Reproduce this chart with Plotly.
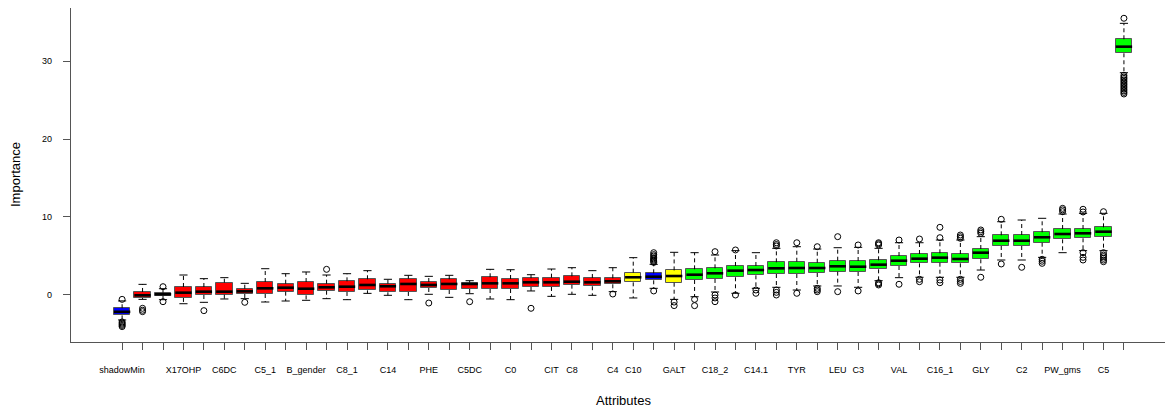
import plotly.graph_objects as go

# ---- data ----
labels = ["shadowMin", "", "", "X17OHP", "", "C6DC", "", "C5_1", "", "B_gender",
          "", "C8_1", "", "C14", "", "PHE", "", "C5DC", "", "C0",
          "", "CIT", "C8", "", "C4", "C10", "", "GALT", "", "C18_2",
          "", "C14.1", "", "TYR", "", "LEU", "C3", "", "VAL", "",
          "C16_1", "", "GLY", "", "C2", "", "PW_gms", "", "C5", ""]

status = (["shadow", "rejected", "shadow"] + ["rejected"] * 22 +
          ["tentative", "shadow", "tentative"] + ["confirmed"] * 22)

lower_whisker = [-3.25, -0.60, -0.64, -1.16, -0.98, -0.55, -0.51, -0.94, -0.81, -0.72,
                 -0.51, -0.64, 0.17, -0.08, -0.64, 0.05, -0.34, 0.13, -0.55, -0.64,
                 0.48, -0.21, 0.05, -0.08, 0.39, -0.42, 0.82, -0.60, -0.26, 0.35,
                 0.18, 0.82, 0.95, 0.60, 1.12, 1.12, 0.95, 1.80, 2.19, 2.24,
                 2.24, 2.24, 3.17, 4.46, 4.46, 4.80, 5.40, 5.66, 5.66, 28.53]
q1 = [-2.66, -0.42, -0.15, -0.42, -0.04, 0.00, 0.09, 0.09, 0.39, -0.08,
      0.51, 0.35, 0.56, 0.31, 0.35, 0.86, 0.60, 0.73, 0.73, 0.73,
      0.99, 0.99, 1.29, 1.08, 1.34, 1.59, 1.85, 1.54, 1.89, 2.02,
      2.24, 2.49, 2.66, 2.66, 2.79, 2.96, 2.92, 3.26, 3.69, 4.03,
      4.11, 4.03, 4.55, 6.26, 6.26, 6.68, 7.12, 7.25, 7.46, 31.03]
median = [-2.20, -0.08, 0.05, 0.26, 0.39, 0.39, 0.43, 0.82, 0.90, 0.77,
          0.95, 1.03, 1.25, 1.08, 1.38, 1.25, 1.38, 1.38, 1.46, 1.46,
          1.59, 1.59, 1.67, 1.59, 1.72, 2.24, 2.31, 2.40, 2.57, 2.75,
          3.09, 3.17, 3.39, 3.43, 3.43, 3.65, 3.60, 3.86, 4.37, 4.63,
          4.76, 4.59, 5.40, 6.94, 6.94, 7.38, 7.80, 7.89, 8.10, 31.88]
q3 = [-1.74, 0.35, 0.25, 0.99, 0.99, 1.54, 0.77, 1.63, 1.41, 1.63,
      1.41, 1.72, 1.98, 1.41, 2.06, 1.63, 1.98, 1.54, 2.24, 2.02,
      2.11, 2.19, 2.36, 2.15, 2.11, 2.83, 2.75, 3.12, 3.26, 3.39,
      3.69, 3.69, 4.16, 4.24, 4.11, 4.37, 4.33, 4.42, 4.97, 5.23,
      5.32, 5.23, 5.87, 7.63, 7.67, 8.02, 8.44, 8.44, 8.66, 32.83]
upper_whisker = [-0.80, 1.33, 0.77, 2.53, 2.06, 2.19, 1.46, 3.34, 2.70, 2.92,
                 2.53, 2.70, 3.09, 1.98, 2.49, 2.36, 2.49, 1.80, 3.26, 3.21,
                 2.57, 3.30, 3.47, 3.09, 3.47, 4.76, 3.90, 5.45, 5.40, 5.10,
                 5.66, 5.40, 5.96, 6.17, 5.87, 6.04, 6.09, 5.96, 6.68, 6.68,
                 7.03, 7.03, 7.46, 9.38, 9.60, 9.82, 10.37, 10.46, 10.46, 34.88]
outliers = [[-0.6, -3.5, -3.65, -3.8, -3.95, -4.1], [-1.75, -2.0, -2.18], [1.03, -0.9], [], [-2.05],
            [], [-0.98], [], [], [],
            [3.26], [], [], [], [],
            [-1.07], [], [-0.9], [], [],
            [-1.75], [], [], [], [0.09],
            [], [4.15, 4.3, 4.45, 4.6, 4.75, 4.97, 5.15, 5.4, 0.48], [-0.95, -1.4],
            [-0.6, -1.41], [5.53, -0.04, -0.42, -0.9],
            [5.75, -0.04], [0.6, 0.18], [6.26, 6.45, 6.68, 0.6, 0.3, -0.04], [6.68, 0.18],
            [6.17, 0.82, 0.6, 0.39],
            [7.46, 0.39], [6.39, 0.48], [6.39, 6.55, 6.68, 1.54, 1.4, 1.25], [7.03, 1.34],
            [7.16, 1.98, 1.67],
            [7.33, 8.66, 1.89, 1.54], [7.25, 7.45, 7.67, 1.98, 1.7, 1.46], [7.89, 8.1, 8.32, 2.24],
            [9.69, 3.95], [3.52],
            [4.55, 4.3, 4.03], [10.67, 10.9, 11.1], [10.63, 10.98, 5.4, 4.8, 4.46],
            [10.67, 5.4, 5.1, 4.9, 4.68, 4.45, 4.24],
            [35.53, 28.2, 27.98, 27.8, 27.6, 27.4, 27.2, 27.0, 26.8, 26.6, 26.4, 26.2, 26.0, 25.8]]

y_ticks = [0, 10, 20, 30]

# ---- styling ----
status_colors = {"shadow": "#0000FF", "rejected": "#FF0000",
                 "tentative": "#FFFF00", "confirmed": "#00FF00"}
BOX_W = 0.8
CAP_HALF = 0.2

n = len(labels)
pos = list(range(1, n + 1))

fig = go.Figure()

# boxes (Q1..Q3)
fig.add_trace(go.Bar(
    x=pos, base=q1, y=[b - a for a, b in zip(q1, q3)], width=BOX_W,
    marker=dict(color=[status_colors[s] for s in status],
                line=dict(color="#555555", width=1)),
    hoverinfo="skip", showlegend=False))

def seg(xs0, xs1, ys0, ys1):
    X, Y = [], []
    for a, b, c, d in zip(xs0, xs1, ys0, ys1):
        X += [a, b, None]
        Y += [c, d, None]
    return X, Y

# dashed whiskers
wx, wy = seg(pos + pos, pos + pos, q3 + q1, upper_whisker + lower_whisker)
fig.add_trace(go.Scatter(x=wx, y=wy, mode="lines",
                         line=dict(color="black", width=1, dash="4px,3px"),
                         hoverinfo="skip", showlegend=False))
# staples
cx, cy = seg([p - CAP_HALF for p in pos] * 2, [p + CAP_HALF for p in pos] * 2,
             upper_whisker + lower_whisker, upper_whisker + lower_whisker)
fig.add_trace(go.Scatter(x=cx, y=cy, mode="lines",
                         line=dict(color="black", width=1),
                         hoverinfo="skip", showlegend=False))
# medians
mx, my = seg([p - BOX_W / 2 for p in pos], [p + BOX_W / 2 for p in pos], median, median)
fig.add_trace(go.Scatter(x=mx, y=my, mode="lines",
                         line=dict(color="black", width=2.6),
                         hoverinfo="skip", showlegend=False))
# outliers
ox = [p for p, o in zip(pos, outliers) for _ in o]
oy = [v for o in outliers for v in o]
fig.add_trace(go.Scatter(x=ox, y=oy, mode="markers",
                         marker=dict(symbol="circle-open", size=6, color="black",
                                     line=dict(width=1)),
                         hoverinfo="skip", showlegend=False))

# page body has an 8px margin: figure is drawn 8px lower/right
PLOT_W = 1102
PLOT_H = 334
font = "Liberation Sans, Arial, sans-serif"

annotations = [
    dict(text="Attributes", xref="paper", yref="paper", x=(623 - 71) / PLOT_W,
         y=-(400 - 342) / PLOT_H, xanchor="center", yanchor="middle",
         showarrow=False, font=dict(size=13)),
    dict(text="Importance", xref="paper", yref="paper", x=(15 - 71) / PLOT_W,
         y=0.5, xanchor="center", yanchor="middle", textangle=-90,
         showarrow=False, font=dict(size=13)),
]
for t in y_ticks:
    annotations.append(dict(text=str(t), xref="paper", yref="y", x=(54 - 71) / PLOT_W,
                            y=t, xanchor="right", yanchor="middle", showarrow=False,
                            font=dict(size=9)))

fig.update_layout(
    width=1165, height=402,
    margin=dict(l=63, r=0, t=0, b=68, autoexpand=False),
    paper_bgcolor="white", plot_bgcolor="white",
    font=dict(family=font, color="black"),
    bargap=0,
    xaxis=dict(range=[-1.5, 52.4], tickmode="array", tickvals=pos, ticktext=labels,
               tickangle=0, ticks="outside", ticklen=7, tickcolor="#555555",
               showline=True, linecolor="#555555", linewidth=1, mirror=True,
               showgrid=False, zeroline=False, tickfont=dict(size=9),
               ticklabelstandoff=12, automargin=False),
    yaxis=dict(range=[-6.08, 36.85], tickmode="array", tickvals=y_ticks,
               showticklabels=False,
               ticks="outside", ticklen=7, tickcolor="#555555",
               showline=True, linecolor="#555555", linewidth=1, mirror=False,
               showgrid=False, zeroline=False, automargin=False),
    annotations=annotations,
)

fig.write_html("out.html")
